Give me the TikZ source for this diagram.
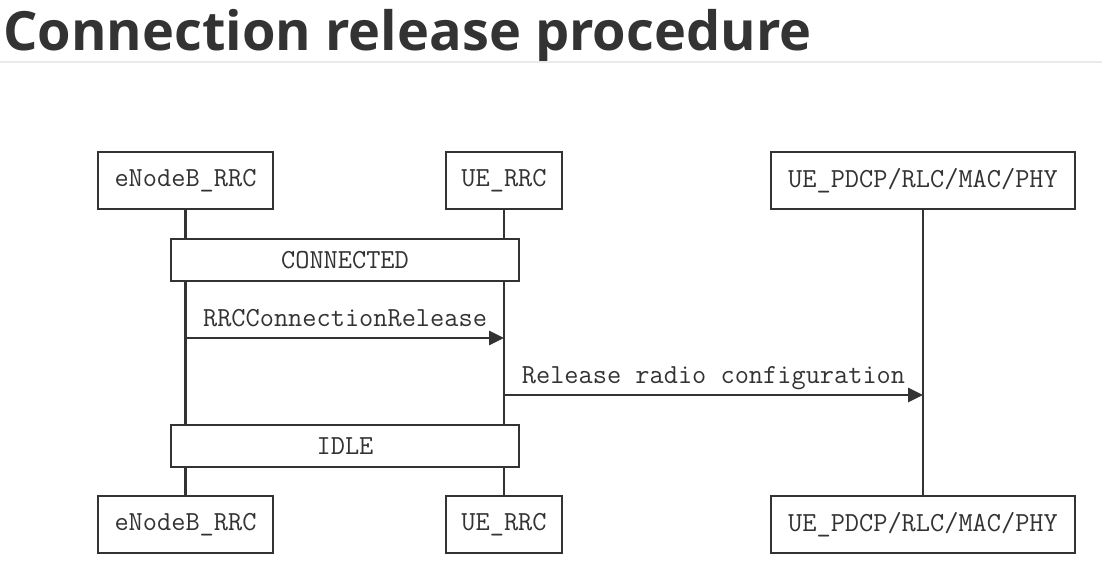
\documentclass[tikz,border=0pt]{standalone}
\usepackage{fontspec}
\setmainfont{Open Sans}
\usetikzlibrary{arrows.meta, positioning}
\definecolor{seq-line}{HTML}{333333}
\definecolor{seq-text}{HTML}{333333}
\definecolor{rule-gray}{HTML}{EAEAEA}
\tikzset{
  actor-box/.style={
    draw=seq-line, fill=white, line width=2pt,
    minimum height=1.425cm, inner sep=0pt,
    font=\ttfamily\fontsize{19.6}{22}\selectfont, text=seq-text
  },
  state-box/.style={
    draw=seq-line, fill=white, line width=2pt,
    minimum width=8.7cm, minimum height=1.05cm, inner sep=0pt,
    font=\ttfamily\fontsize{19.6}{22}\selectfont, text=seq-text
  },
  life-line/.style={draw=seq-line, line width=2pt},
  msg-edge/.style={-{Triangle[length=15*0.025cm, width=14*0.025cm]}, line width=2pt, draw=seq-line},
  msg-label/.style={font=\ttfamily\fontsize{19.6}{22}\selectfont, text=seq-text,
    anchor=base, yshift=8.5pt, inner sep=0pt}
}

\begin{document}
\begin{tikzpicture}[x=0.025cm, y=-0.025cm]
  \useasboundingbox (0,0) rectangle (1102,577);

  % heading
  \node[anchor=base west, inner sep=0pt, text=seq-text,
        font=\fontsize{38.5}{46}\selectfont\bfseries] (title) at (3,51) {Connection release procedure};
  \coordinate (rule-l) at (0,62);
  \coordinate (rule-r) at (1102,62);
  \draw[rule-gray, line width=1pt] (rule-l) -- (rule-r);

  % participants
  \node[actor-box, minimum width=4.375cm] (enb-top)  at (185.5,180.5) {eNodeB\_RRC};
  \node[actor-box, minimum width=2.9cm]   (ue-top)   at (504,180.5)   {UE\_RRC};
  \node[actor-box, minimum width=7.6cm]   (phy-top)  at (923,180.5)   {UE\_PDCP/RLC/MAC/PHY};
  \node[actor-box, minimum width=4.375cm] (enb-bot)  at (185.5,524.5) {eNodeB\_RRC};
  \node[actor-box, minimum width=2.9cm]   (ue-bot)   at (504,524.5)   {UE\_RRC};
  \node[actor-box, minimum width=7.6cm]   (phy-bot)  at (923,524.5)   {UE\_PDCP/RLC/MAC/PHY};

  % lifelines
  \draw[life-line] (enb-top) -- (enb-bot);
  \draw[life-line] (ue-top)  -- (ue-bot);
  \draw[life-line] (phy-top) -- (phy-bot);

  % states
  \node[state-box] (connected) at (345,260) {CONNECTED};
  \node[state-box] (idle)      at (345,446) {IDLE};

  % messages
  \coordinate (enb-m1) at (186,338);
  \coordinate (ue-m1)  at (504,338);
  \coordinate (ue-m2)  at (504,395);
  \coordinate (phy-m2) at (923,395);
  \draw[msg-edge] (enb-m1) -- node[msg-label] {RRCConnectionRelease} (ue-m1);
  \draw[msg-edge] (ue-m2) -- node[msg-label] {Release radio configuration} (phy-m2);
\end{tikzpicture}
\end{document}
